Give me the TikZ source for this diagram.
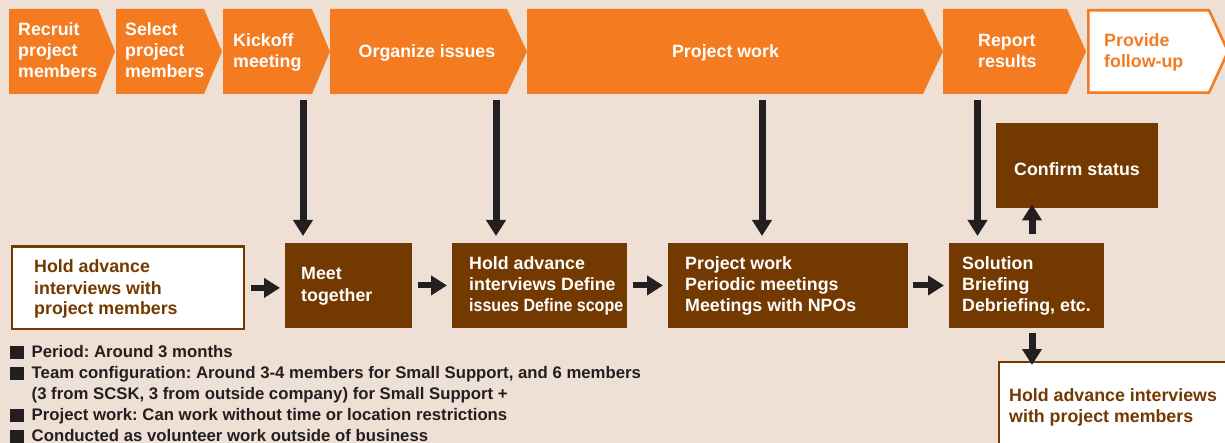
\documentclass[tikz,border=0pt]{standalone}
\usepackage{fontspec}
\usepackage{graphicx}
\setmainfont{Liberation Sans}
\usetikzlibrary{arrows.meta}
\frenchspacing

\definecolor{bg}{HTML}{EEE0D4}
\definecolor{orng}{HTML}{F47B20}
\definecolor{brwn}{HTML}{733900}
\definecolor{ink}{HTML}{231F20}

% lines of text set on a fixed 21pt pitch, baseline at the first line
\newcommand{\stack}[1]{\begin{tabular}[t]{@{}l@{}}#1\end{tabular}}
% one step of the process bar: left edge, shoulder, tip
\newcommand{\chev}[3]{\fill[orng] (#1,9) -- (#2,9) -- (#3,51.5) -- (#2,94) -- (#1,94) -- cycle;}
% square bullet of the notes
\newcommand{\sqbullet}{\rule[-1.5pt]{13.5pt}{13pt}}

\tikzset{
  hd/.style={inner sep=0pt, font=\bfseries\fontsize{17.8}{21}\selectfont, text=white, anchor=base west},
  brownbox/.style={fill=brwn, draw=none, inner sep=0pt, anchor=north west},
  whitebox/.style={fill=white, draw=brwn, line width=2.8pt, inner sep=0pt, anchor=north west},
  varrow/.style={draw=ink, line width=7pt, -{Triangle[width=19pt,length=16pt]}},
  harrow/.style={draw=ink, line width=6pt, -{Triangle[width=19pt,length=16pt]}, shorten <=5.5pt, shorten >=5pt},
  notes/.style={inner sep=0pt, anchor=base west, text=ink, font=\bfseries\fontsize{16.75}{21}\selectfont},
}

\begin{document}
\begin{tikzpicture}[x=1pt, y=-1pt]
\useasboundingbox (0,0) rectangle (1225,443);
\clip (0,0) rectangle (1225,443);
\fill[bg] (0,0) rectangle (1225,443);

% process bar
\chev{9}{98}{115}
\chev{116}{204}{222}
\chev{223}{312}{330}
\chev{330}{507}{527}
\chev{527}{923}{943}
\chev{943}{1067}{1086}
\draw[orng, line width=2.6pt, fill=white] (1088.3,10.3) -- (1209,10.3) -- (1228,51.5) -- (1209,92.7) -- (1088.3,92.7) -- cycle;

\node[hd] (c1) at (18,36) {\stack{Recruit\\project\\members}};
\node[hd] (c2) at (125,36) {\stack{Select\\project\\members}};
\node[hd] (c3) at (233,47) {\stack{Kickoff\\meeting}};
\node[hd, anchor=base] (c4) at (427,58) {Organize issues};
\node[hd, anchor=base] (c5) at (725.5,58) {Project work};
\node[hd] (c6) at (978,47) {\stack{Report\\results}};
\node[hd, text=orng] (c7) at (1104,47) {\stack{Provide\\follow-up}};

% activity boxes
\node[whitebox, minimum width=232pt, minimum height=82pt] (wb) at (10.5,245.5) {};
\node[brownbox, minimum width=126.6pt, minimum height=85.5pt] (meet) at (285,242.5) {};
\node[brownbox, minimum width=175pt, minimum height=85.5pt] (mid) at (452,242.5) {};
\node[brownbox, minimum width=239.5pt, minimum height=85.5pt] (pw) at (668,242.5) {};
\node[brownbox, minimum width=155pt, minimum height=85.5pt] (sol) at (949,242.5) {};
\node[brownbox, minimum width=162pt, minimum height=85pt] (conf) at (996,123) {};
\node[whitebox, minimum width=240pt, minimum height=100pt] (fb) at (997.5,360.5) {};

\node[hd, text=brwn] (wbt) at (34,273) {\stack{Hold advance\\interviews with\\project members}};
\node[hd] (meett) at (301,280) {\stack{Meet\\together}};
\node[hd] (midt) at (469,270) {\stack{Hold advance\\interviews Define\\\scalebox{0.9}[1]{issues Define scope}}};
\node[hd] (pwt) at (685,270) {\stack{Project work\\Periodic meetings\\Meetings with NPOs}};
\node[hd] (solt) at (962,270) {\stack{Solution\\Briefing\\Debriefing, etc.}};
\node[hd, anchor=base] (conft) at (1077,176) {Confirm status};
\node[hd, text=brwn] (fbt) at (1009,401) {\stack{Hold advance interviews\\with project members}};

% links from the process bar down to the activities
\coordinate (k3) at (303,94);
\coordinate (k4) at (496,94);
\coordinate (k5) at (762,94);
\coordinate (k6) at (977.5,94);
\coordinate (ux) at (1032,0);
\draw[varrow, shorten <=6pt, shorten >=6.5pt] (k3) -- (k3 |- meet.north);
\draw[varrow, shorten <=6pt, shorten >=6.5pt] (k4) -- (k4 |- mid.north);
\draw[varrow, shorten <=6pt, shorten >=6.5pt] (k5) -- (k5 |- pw.north);
\draw[varrow, shorten <=6pt, shorten >=6.5pt] (k6) -- (k6 |- sol.north);
\draw[varrow, shorten <=8pt, shorten >=-4pt] (ux |- sol.north) -- (ux |- conf.south);
\draw[varrow, shorten <=5pt, shorten >=-4.5pt] (ux |- sol.south) -- (ux |- fb.north);

% flow between the activities
\draw[harrow] (wb.east) -- (wb.east -| meet.west);
\draw[harrow] (meet.east) -- (meet.east -| mid.west);
\draw[harrow] (mid.east) -- (mid.east -| pw.west);
\draw[harrow] (pw.east) -- (pw.east -| sol.west);

% notes
\node[notes] (nt) at (10,357) {\begin{tabular}[t]{@{}l@{\hspace{8pt}}l@{}}
\sqbullet & Period: Around 3 months\\
\sqbullet & Team configuration: Around 3-4 members for Small Support, and 6 members\\
 & (3 from SCSK, 3 from outside company) for Small Support +\\
\sqbullet & Project work: Can work without time or location restrictions\\
\sqbullet & Conducted as volunteer work outside of business
\end{tabular}};
\end{tikzpicture}
\end{document}
